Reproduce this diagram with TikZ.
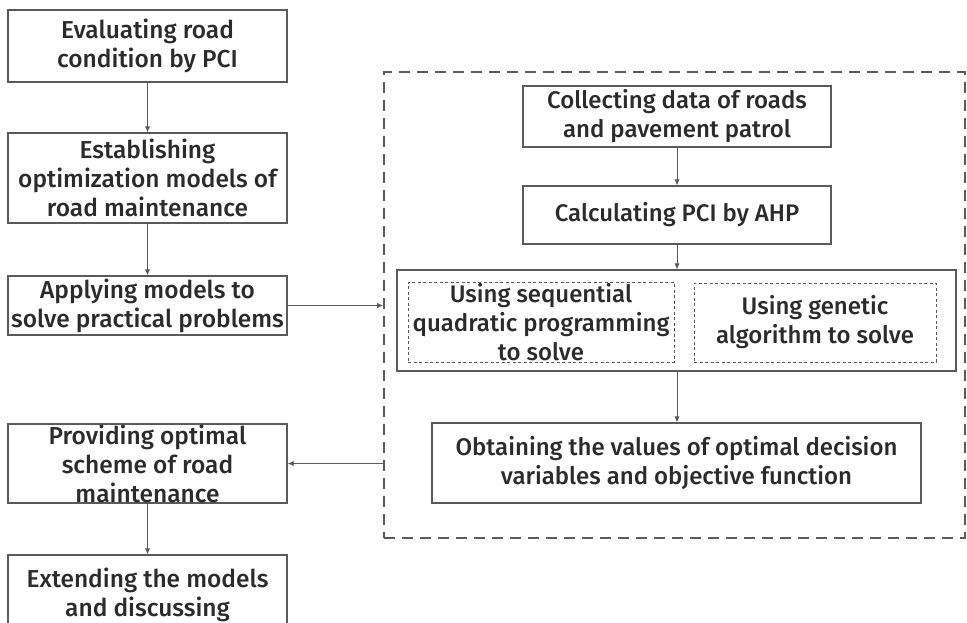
\documentclass[tikz,border=0pt]{standalone}
\usepackage{fontspec}
\setmainfont{Fira Sans Medium}
\usetikzlibrary{arrows.meta}
\definecolor{ink}{HTML}{2B2B2B}
\definecolor{edge}{HTML}{5A5A5A}
\begin{document}
\begin{tikzpicture}[x=1pt,y=-1pt,
  frame/.style 2 args={draw=edge,line width=1.1pt,rectangle,inner sep=0pt,
    minimum width=#1,minimum height=#2},
  dotbox/.style 2 args={frame={#1}{#2},line width=0.9pt,dash pattern=on 3pt off 2.5pt},
  grpbox/.style 2 args={frame={#1}{#2},line width=1.6pt,dash pattern=on 11pt off 7pt},
  txtL/.style={align=center,text=ink,font=\fontsize{24.5}{29}\selectfont,inner sep=0pt},
  txtR/.style={align=center,text=ink,font=\fontsize{24}{29}\selectfont,inner sep=0pt},
  arr/.style={draw=edge,line width=0.8pt,-{Latex[length=6pt,width=5pt]}}]
\useasboundingbox (0,0) rectangle (967,623);
\clip (0,0) rectangle (967,623);
\fill[white] (0,0) rectangle (967,623);

% left column
\node[frame={279pt}{72pt},label={[txtL]center:Evaluating road\\condition by PCI}] (b1) at (147.5,46) {};
\node[frame={279pt}{90pt},label={[txtL]center:Establishing\\optimization models of\\road maintenance}] (b2) at (147.5,178) {};
\node[frame={279pt}{59pt},label={[txtL]center:Applying models to\\solve practical problems}] (b3) at (147.5,305.5) {};
\node[frame={279pt}{79pt},label={[txtL]center:Providing optimal\\scheme of road\\maintenance}] (b4) at (147.5,463.5) {};
\node[frame={279pt}{79pt},label={[txtL]center:Extending the models\\and discussing}] (b5) at (147.5,594.5) {};

% dashed group on the right
\node[grpbox={581pt}{466pt}] (grp) at (674.5,305) {};
\node[frame={308pt}{61pt},label={[txtR]center:Collecting data of roads\\and pavement patrol}] (c1) at (677,116.5) {};
\node[frame={308pt}{58pt},label={[txtR]center:Calculating PCI by AHP}] (c2) at (677,215) {};
\node[frame={559pt}{101pt}] (big) at (676.5,320.5) {};
\node[dotbox={266pt}{80pt},label={[txtR]center:Using sequential\\quadratic programming\\to solve}] (sqp) at (541,322) {};
\node[dotbox={242pt}{79pt},label={[txtR]center:Using genetic\\algorithm to solve}] (ga) at (815,322.5) {};
\node[frame={489pt}{80pt},label={[txtR]center:Obtaining the values of optimal decision\\variables and objective function}] (ob) at (676.5,463) {};

% connectors
\draw[arr] (b1) -- (b2);
\draw[arr] (b2) -- (b3);
\draw[arr] (b4) -- (b5);
\draw[arr] (b3.east) -- (b3.east -| grp.west);
\draw[arr] (grp.west |- b4.east) -- (b4.east);
\draw[arr] (c1) -- (c2);
\draw[arr] (c2.south) -- (c2.south |- big.north);
\draw[arr] (c2.south |- big.south) -- (c2.south |- ob.north);
\end{tikzpicture}
\end{document}
